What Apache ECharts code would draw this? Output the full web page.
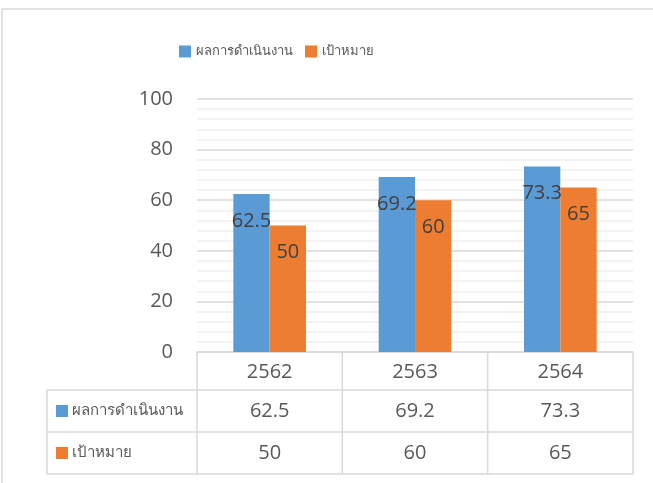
<!DOCTYPE html>
<html>

<head>
    <meta charset="utf-8">
    <style>
        body {
            margin: 0;
            background-color: #fff;
        }

        #main {
            width: 653px;
            height: 483px;
        }
    </style>
</head>

<body>
    <div id="main"></div>

    <script src="https://cdn.jsdelivr.net/npm/echarts@6/dist/echarts.min.js"></script>
    <script type="text/javascript">
        // data
        var years = ['2562', '2563', '2564'];
        var seriesNames = ['ผลการดำเนินงาน', 'เป้าหมาย'];
        var actual = [62.5, 69.2, 73.3];
        var target = [50, 60, 65];
        var colors = ['#5b9bd5', '#ed7d31'];

        var font = 'Open Sans, Noto Sans, sans-serif';
        var lineColor = '#d9d9d9';

        var myChart = echarts.init(document.getElementById('main'));

        var option = {
            backgroundColor: '#fff',
            animation: false,
            color: colors,
            legend: {
                left: 174,
                top: 40,
                itemWidth: 12,
                itemHeight: 12,
                itemGap: 12,
                icon: 'rect',
                textStyle: {
                    fontFamily: font,
                    fontSize: 13,
                    color: '#595959'
                },
                data: seriesNames
            },
            grid: {
                left: 197,
                right: 20,
                top: 99,
                bottom: 131
            },
            xAxis: {
                type: 'category',
                data: years,
                axisTick: { show: false },
                axisLine: { lineStyle: { color: lineColor, width: 1.5 } },
                axisLabel: {
                    margin: 10,
                    fontFamily: font,
                    fontSize: 20,
                    color: '#595959'
                }
            },
            yAxis: {
                type: 'value',
                min: 0,
                max: 100,
                interval: 20,
                axisLine: { show: false },
                axisTick: { show: false },
                axisLabel: {
                    margin: 24,
                    fontFamily: font,
                    fontSize: 20,
                    color: '#595959'
                },
                splitLine: { lineStyle: { color: lineColor, width: 1.5 } },
                minorTick: { show: false, splitNumber: 5 },
                minorSplitLine: { show: true, lineStyle: { color: '#f0f0f0', width: 1.5 } }
            },
            series: [
                {
                    name: seriesNames[0],
                    type: 'bar',
                    data: actual,
                    barGap: '0%',
                    barCategoryGap: '50%',
                    label: {
                        show: true,
                        position: 'insideTop',
                        distance: 17,
                        fontFamily: font,
                        fontSize: 20,
                        color: '#404040'
                    }
                },
                {
                    name: seriesNames[1],
                    type: 'bar',
                    data: target,
                    barGap: '0%',
                    barCategoryGap: '50%',
                    label: {
                        show: true,
                        position: 'insideTop',
                        distance: 17,
                        fontFamily: font,
                        fontSize: 20,
                        color: '#404040'
                    }
                }
            ]
        };

        myChart.setOption(option);

        // data table under the axis
        var x0 = 197, x1 = 633, yTop = 352, r1 = 390, r2 = 432, r3 = 474, tl = 47;
        var graphics = [];
        function line(xa, ya, xb, yb) {
            graphics.push({
                type: 'line',
                shape: { x1: xa, y1: ya, x2: xb, y2: yb },
                style: { stroke: lineColor, lineWidth: 1.5 }
            });
        }
        // chart frame (cut by the picture edge)
        line(2, 9, 653, 9);
        line(2, 9, 2, 483);

        line(tl, r1, tl, r3);
        line(tl, r1, x1, r1);
        line(tl, r2, x1, r2);
        line(tl, r3, x1, r3);
        var step = (x1 - x0) / years.length;
        for (var i = 0; i <= years.length; i++) {
            line(x0 + step * i, yTop, x0 + step * i, r3);
        }

        var rows = [actual, target];
        var rowY = [(r1 + r2) / 2, (r2 + r3) / 2];
        for (var r = 0; r < rows.length; r++) {
            graphics.push({
                type: 'rect',
                shape: { x: 56, y: rowY[r] - 6, width: 12, height: 12 },
                style: { fill: colors[r] }
            });
            graphics.push({
                type: 'text',
                x: 72,
                y: rowY[r],
                style: {
                    text: seriesNames[r],
                    fontFamily: font,
                    fontSize: 15,
                    fill: '#595959',
                    verticalAlign: 'middle'
                }
            });
            for (var c = 0; c < years.length; c++) {
                var px = myChart.convertToPixel({ xAxisIndex: 0 }, years[c]);
                graphics.push({
                    type: 'text',
                    x: px,
                    y: rowY[r],
                    style: {
                        text: String(rows[r][c]),
                        fontFamily: font,
                        fontSize: 20,
                        fill: '#595959',
                        align: 'center',
                        verticalAlign: 'middle'
                    }
                });
            }
        }

        myChart.setOption({ graphic: graphics });
    </script>
</body>

</html>
